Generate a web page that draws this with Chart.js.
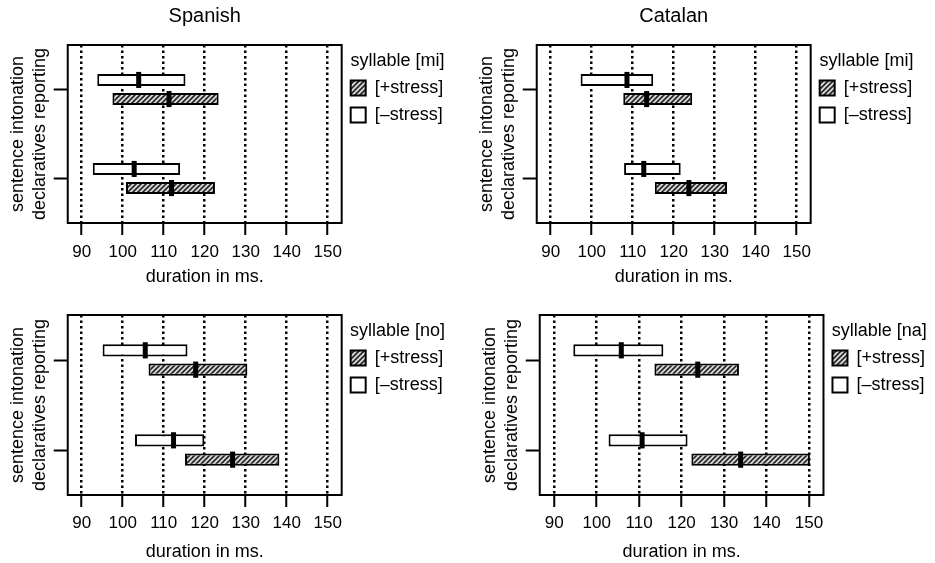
<!DOCTYPE html>
<html>
<head>
<meta charset="utf-8">
<script src="https://cdn.jsdelivr.net/npm/chart.js@4.4.1/dist/chart.umd.min.js"></script>
<style>
  body { margin: 0; background: #fff; }
  #wrap { position: relative; width: 935px; height: 563px; }
  #wrap canvas { position: absolute; }
</style>
</head>
<body>
<div id="wrap">
  <canvas id="spanishMi" width="470" height="290" style="left:0px;top:0px"></canvas>
  <canvas id="catalanMi" width="466" height="290" style="left:469px;top:0px"></canvas>
  <canvas id="spanishNo" width="470" height="273" style="left:0px;top:290px"></canvas>
  <canvas id="catalanNa" width="463" height="273" style="left:472px;top:290px"></canvas>
</div>
<script>
const sentenceTypes = ['reporting', 'declaratives'];
const durationTicks = [90, 100, 110, 120, 130, 140, 150];
const durationMin = 86.6;
const durationMax = 153.4;

// duration ranges (ms) per sentence type, plus medians
const spanishMiPlus = [[97.5, 123.4], [100.8, 122.5]];
const spanishMiPlusMedian = [111.3, 111.9];
const spanishMiMinus = [[93.8, 115.3], [92.7, 114.0]];
const spanishMiMinusMedian = [103.9, 102.8];

const catalanMiPlus = [[107.7, 124.5], [115.4, 133.0]];
const catalanMiPlusMedian = [113.4, 123.7];
const catalanMiMinus = [[97.3, 115.0], [107.9, 121.7]];
const catalanMiMinusMedian = [108.6, 112.7];

const spanishNoPlus = [[106.3, 130.4], [115.2, 138.2]];
const spanishNoPlusMedian = [117.8, 126.8];
const spanishNoMinus = [[95.1, 115.8], [103.0, 119.9]];
const spanishNoMinusMedian = [105.5, 112.4];

const catalanNaPlus = [[113.6, 133.5], [122.3, 150.2]];
const catalanNaPlusMedian = [123.8, 133.9];
const catalanNaMinus = [[94.5, 115.7], [102.8, 121.4]];
const catalanNaMinusMedian = [105.8, 110.7];

Chart.defaults.font.family = "'Liberation Sans', Arial, Helvetica, sans-serif";
Chart.defaults.color = '#000';

function hatch(ctx) {
  const c = document.createElement('canvas');
  c.width = 5; c.height = 5;
  const g = c.getContext('2d');
  g.fillStyle = '#dcdcdc';
  g.fillRect(0, 0, 5, 5);
  g.strokeStyle = '#262626';
  g.lineWidth = 1.7;
  g.beginPath();
  g.moveTo(-1, 6); g.lineTo(6, -1);
  g.moveTo(-1, 1); g.lineTo(1, -1);
  g.moveTo(4, 6); g.lineTo(6, 4);
  g.stroke();
  return ctx.createPattern(c, 'repeat');
}

// thick black tick at each box's median
const medianTicks = {
  id: 'medianTicks',
  afterDatasetsDraw(chart) {
    const ctx = chart.ctx, xs = chart.scales.x;
    ctx.save();
    ctx.fillStyle = '#000';
    chart.data.datasets.forEach((ds, i) => {
      chart.getDatasetMeta(i).data.forEach((bar, j) => {
        const px = xs.getPixelForValue(ds.medians[j]);
        const h = bar.height + 4;
        ctx.fillRect(px - 2.5, bar.y - h / 2, 5, h);
      });
    });
    ctx.restore();
  }
};

// box around the plot area
const frame = {
  id: 'frame',
  afterDraw(chart) {
    const { ctx, chartArea: a } = chart;
    ctx.save();
    ctx.strokeStyle = '#000';
    ctx.lineWidth = 2;
    ctx.strokeRect(a.left, a.top, a.right - a.left, a.bottom - a.top);
    ctx.restore();
  }
};

function panel(id, title, syllable, minus, minusMed, plus, plusMed, lay) {
  const ctx = document.getElementById(id).getContext('2d');
  return new Chart(ctx, {
    type: 'bar',
    data: {
      labels: sentenceTypes,
      datasets: [
        { label: '[\u2013stress]', data: minus, medians: minusMed,
          backgroundColor: '#fff', borderColor: '#000', borderWidth: 2, borderSkipped: false },
        { label: '[+stress]', data: plus, medians: plusMed,
          backgroundColor: hatch(ctx), borderColor: '#000', borderWidth: 2, borderSkipped: false }
      ]
    },
    options: {
      indexAxis: 'y',
      responsive: false,
      animation: false,
      layout: { padding: lay.padding },
      datasets: { bar: { categoryPercentage: 0.43, barPercentage: 0.63 } },
      scales: {
        x: {
          type: 'linear', min: durationMin, max: durationMax,
          afterBuildTicks: s => { s.ticks = durationTicks.map(v => ({ value: v })); },
          grid: { color: '#000', lineWidth: 2.5, tickLength: 12, tickColor: '#000', tickWidth: 2 },
          border: { display: false, dash: [2.5, 3] },
          ticks: { color: '#000', font: { size: 17 }, padding: lay.tickPad, maxRotation: 0 },
          title: { display: true, text: 'duration in ms.', color: '#000',
                   font: { size: 18 }, padding: lay.xTitlePad }
        },
        y: {
          grid: { drawOnChartArea: false, offset: false, tickLength: 14, tickColor: '#000', tickWidth: 2 },
          border: { display: false },
          ticks: { display: false },
          title: { display: true, text: ['sentence intonation', 'declaratives reporting'], color: '#000',
                   font: { size: 18, lineHeight: 1.24 }, padding: { top: 6.5, bottom: 2.6 } }
        }
      },
      plugins: {
        title: { display: !!title, text: title, fullSize: false, color: '#000',
                 font: { size: 20, weight: 'normal' }, padding: { top: 4.1, bottom: 16.9 } },
        legend: {
          position: 'right', align: 'start', fullSize: false, reverse: true,
          title: { display: true, text: 'syllable [' + syllable + ']', position: 'center', color: '#000',
                   font: { size: 18, lineHeight: 1 }, padding: { top: 7, bottom: 0 } },
          labels: { color: '#000', font: { size: 18 }, boxWidth: 15, boxHeight: 15, padding: 9 }
        },
        tooltip: { enabled: false }
      }
    },
    plugins: [medianTicks, frame]
  });
}

// tick label padding is counted twice in the axis height, so the title padding takes one back
const topRow = { tickPad: 7, xTitlePad: { top: -3.2, bottom: 2.2 } };
const bottomRow = { tickPad: 5.8, xTitlePad: { top: 2.2, bottom: 0.2 } };

panel('spanishMi', 'Spanish', 'mi', spanishMiMinus, spanishMiMinusMedian, spanishMiPlus, spanishMiPlusMedian,
  Object.assign({ padding: { top: 0, right: 16.8, bottom: 0, left: 0 } }, topRow));
panel('catalanMi', 'Catalan', 'mi', catalanMiMinus, catalanMiMinusMedian, catalanMiPlus, catalanMiPlusMedian,
  Object.assign({ padding: { top: 0, right: 12.8, bottom: 0, left: 0 } }, topRow));
panel('spanishNo', '', 'no', spanishNoMinus, spanishNoMinusMedian, spanishNoPlus, spanishNoPlusMedian,
  Object.assign({ padding: { top: 25, right: 16.8, bottom: 0, left: 0 } }, bottomRow));
panel('catalanNa', '', 'na', catalanNaMinus, catalanNaMinusMedian, catalanNaPlus, catalanNaPlusMedian,
  Object.assign({ padding: { top: 25, right: 0, bottom: 0, left: 0 } }, bottomRow));
</script>
</body>
</html>
